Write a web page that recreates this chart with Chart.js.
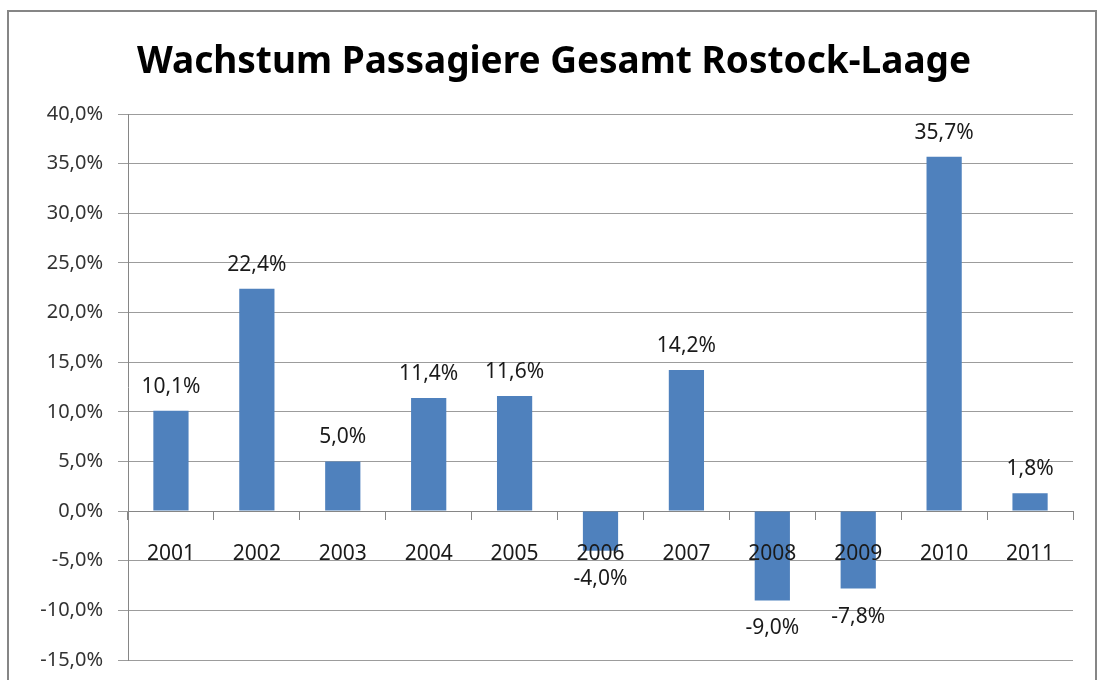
<!DOCTYPE html>
<html>
<head>
<meta charset="utf-8">
<script src="https://cdn.jsdelivr.net/npm/chart.js@4.4.0/dist/chart.umd.min.js"></script>
<style>
  html, body { margin: 0; padding: 0; background: #fff; }
  #wrap { width: 1098px; height: 680px; position: relative; }
</style>
</head>
<body>
<div id="wrap"><canvas id="chart" width="1098" height="680"></canvas></div>
<script>
var years = ['2001', '2002', '2003', '2004', '2005', '2006', '2007', '2008', '2009', '2010', '2011'];
var growth = [10.1, 22.4, 5.0, 11.4, 11.6, -4.0, 14.2, -9.0, -7.8, 35.7, 1.8];
var titleText = 'Wachstum Passagiere Gesamt Rostock-Laage';
var yMin = -15;
var yMax = 40;
var yStep = 5;

var FONT = 'Noto Sans';

function pct(v) {
    return v.toFixed(1).replace('.', ',') + '%';
}

// outer frame and title, like the office chart
var framePlugin = {
    id: 'frame',
    beforeDraw: function(chart) {
        var ctx = chart.ctx;
        ctx.save();
        ctx.fillStyle = '#fff';
        ctx.fillRect(0, 0, chart.width, chart.height);
        ctx.strokeStyle = '#868686';
        ctx.lineWidth = 2;
        ctx.strokeRect(8, 11, 1088, 700);

        ctx.font = 'bold 37px "' + FONT + '"';
        ctx.fillStyle = '#000';
        ctx.textAlign = 'center';
        ctx.textBaseline = 'alphabetic';
        ctx.fillText(titleText, 554, 73);
        ctx.restore();
    }
};

// value labels above / below each bar
var valueLabels = {
    id: 'valueLabels',
    afterDatasetsDraw: function(chart) {
        var ctx = chart.ctx;
        var meta = chart.getDatasetMeta(0);
        ctx.save();
        ctx.font = '21px "' + FONT + '"';
        ctx.fillStyle = '#1a1a1a';
        ctx.textAlign = 'center';
        ctx.textBaseline = 'middle';
        meta.data.forEach(function(bar, i) {
            var v = growth[i];
            var y = v >= 0 ? bar.y - 24 : bar.y + 28;
            ctx.fillText(pct(v), bar.x, y);
        });
        ctx.restore();
    }
};

var ctx = document.getElementById('chart').getContext('2d');
var chart = new Chart(ctx, {
    type: 'bar',
    data: {
        labels: years,
        datasets: [{
            data: growth,
            backgroundColor: '#4F81BD',
            borderWidth: 0,
            categoryPercentage: 1,
            barPercentage: 0.41
        }]
    },
    options: {
        responsive: false,
        animation: false,
        layout: {
            padding: { left: 0, right: 25, bottom: 20, top: 114 }
        },
        plugins: {
            legend: { display: false },
            tooltip: { enabled: false },
            title: { display: false }
        },
        scales: {
            x: {
                position: { y: 0 },
                afterFit: function(scale) {
                    scale.paddingTop = 0;
                    scale.paddingBottom = 0;
                },
                grid: {
                    drawOnChartArea: false,
                    drawTicks: true,
                    tickLength: 8,
                    color: '#868686'
                },
                border: { display: true, color: '#868686', width: 1 },
                ticks: {
                    z: 1,
                    color: '#1a1a1a',
                    padding: 22,
                    font: { family: FONT, size: 21 }
                }
            },
            y: {
                min: yMin,
                max: yMax,
                afterFit: function(scale) {
                    scale.width = 128;
                    scale.paddingTop = 0;
                    scale.paddingBottom = 0;
                },
                grid: {
                    color: '#9c9c9c',
                    tickLength: 10
                },
                border: { display: true, color: '#868686', width: 1 },
                ticks: {
                    stepSize: yStep,
                    color: '#333',
                    padding: 15,
                    font: { family: FONT, size: 20 },
                    callback: function(v) { return pct(v); }
                }
            }
        }
    },
    plugins: [framePlugin, valueLabels]
});
</script>
</body>
</html>
